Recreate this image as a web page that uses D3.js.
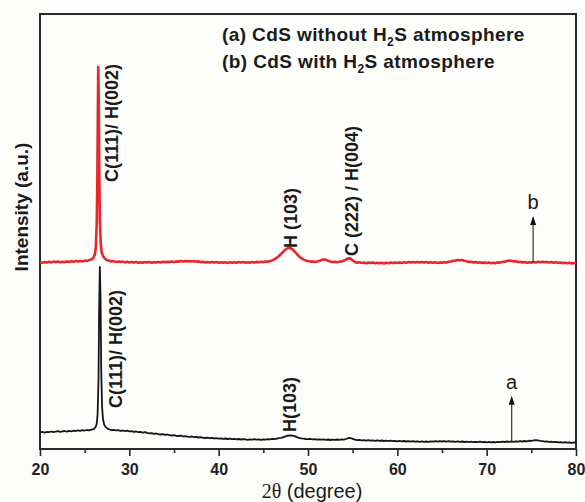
<!DOCTYPE html>
<html><head><meta charset="utf-8">
<script src="https://cdn.jsdelivr.net/npm/d3@7"></script>
<style>
html,body{margin:0;padding:0;background:#fdfdfb;}
svg{display:block;font-family:Arial,"Liberation Sans",Helvetica,sans-serif;}
</style></head>
<body><svg id="chart" width="585" height="502"></svg>
<script>
// 2θ (degree) and intensity (a.u., stacked as in the figure)
const xTicks = [20,30,40,50,60,70,80];
const xMinorTicks = [25,35,45,55,65,75];
const legendLines = ["(a) CdS without H", "(b) CdS with H"];

const redSeries = [
[20.00,186.8],[20.25,186.2],[20.50,187.0],[20.75,186.4],[21.00,187.2],[21.25,186.6],[21.50,187.4],[21.75,186.9],[22.00,187.5],[22.25,186.8],[22.50,187.3],[22.75,186.7],[23.00,187.6],[23.25,187.0],[23.50,187.8],[23.75,187.2],[24.00,187.9],[24.25,187.4],[24.50,188.0],[24.75,187.6],[25.00,188.4],[25.25,188.0],[25.50,188.9],[25.75,189.6],[26.00,191.5],[26.15,195.0],[26.25,202.0],[26.35,225.0],[26.42,270.0],[26.48,340.0],[26.52,382.0],[26.57,350.0],[26.63,280.0],[26.70,230.0],[26.80,205.0],[26.90,197.0],[27.05,193.0],[27.25,190.5],[27.50,188.8],[27.75,188.2],[28.00,187.4],[28.25,187.9],[28.50,187.1],[28.75,187.6],
[29.00,186.9],[29.25,187.4],[29.50,186.6],[29.75,187.2],[30.00,186.5],[30.25,187.1],[30.50,186.4],[30.75,186.9],[31.00,186.3],[31.25,186.8],[31.50,186.2],[31.75,186.9],[32.00,186.4],[32.25,187.0],[32.50,186.3],[32.75,186.8],[33.00,186.5],[33.25,187.1],[33.50,186.6],[33.75,187.2],[34.00,186.7],[34.25,187.3],[34.50,186.9],[34.75,187.5],[35.00,187.0],[35.25,187.6],[35.50,187.2],[35.75,187.9],[36.00,187.4],[36.25,188.0],[36.50,187.6],[36.75,188.1],[37.00,187.5],[37.25,187.9],[37.50,187.2],[37.75,187.6],[38.00,186.9],[38.25,187.3],[38.50,186.6],[38.75,187.1],[39.00,186.5],[39.25,187.0],[39.50,186.4],[39.75,186.9],[40.00,186.3],[40.25,186.8],[40.50,186.2],[40.75,186.7],[41.00,186.1],[41.25,186.7],[41.50,186.2],[41.75,186.8],[42.00,186.3],[42.25,186.9],[42.50,186.4],[42.75,186.9],[43.00,186.3],[43.25,186.8],[43.50,186.4],[43.75,187.0],[44.00,186.5],[44.25,187.1],[44.50,186.7],[44.75,187.2],[45.00,186.9],[45.25,187.4],[45.50,187.3],[45.75,187.9],[46.00,188.6],[46.25,189.8],[46.50,191.2],[46.75,193.0],[47.00,195.2],[47.25,197.5],[47.50,199.6],[47.75,200.8],[48.00,201.0],[48.25,199.8],[48.50,197.6],[48.75,195.0],[49.00,192.6],[49.25,190.8],[49.50,189.4],[49.75,188.6],[50.00,187.9],[50.25,187.4],[50.50,187.6],[50.75,187.1],[51.00,187.5],[51.25,188.0],[51.50,188.9],[51.75,189.6],[52.00,189.3],[52.25,188.2],[52.50,187.5],[52.75,187.0],[53.00,187.3],[53.25,186.8],[53.50,187.2],[53.75,187.6],[54.00,188.2],[54.25,189.4],[54.50,190.6],[54.75,190.4],[55.00,188.6],[55.25,187.0],[55.50,186.2],
[55.75,186.7],[56.00,186.0],[56.25,186.5],[56.50,185.8],[56.75,186.4],[57.00,185.9],[57.25,186.5],[57.50,185.8],[57.75,186.3],[58.00,185.7],[58.25,186.2],[58.50,185.6],[58.75,186.3],[59.00,185.8],[59.25,186.4],[59.50,185.9],[59.75,186.5],[60.00,186.0],[60.25,186.6],[60.50,186.1],[60.75,186.7],[61.00,186.3],[61.25,186.9],[61.50,186.4],[61.75,187.0],[62.00,186.5],[62.25,187.1],[62.50,186.6],[62.75,187.0],[63.00,186.4],[63.25,186.9],[63.50,186.3],[63.75,186.8],[64.00,186.2],[64.25,186.7],[64.50,186.1],[64.75,186.6],[65.00,186.2],[65.25,186.8],[65.50,186.6],[65.75,187.3],[66.00,187.5],[66.25,188.2],[66.50,188.4],[66.75,188.9],[67.00,188.7],[67.25,188.9],[67.50,188.2],[67.75,187.8],[68.00,187.0],[68.25,187.3],[68.50,186.6],[68.75,186.9],[69.00,186.3],[69.25,186.7],[69.50,186.1],[69.75,186.5],[70.00,185.9],[70.25,186.4],[70.50,185.8],[70.75,186.3],[71.00,185.9],[71.25,186.6],[71.50,186.4],[71.75,187.1],[72.00,187.3],[72.25,188.0],[72.50,188.4],[72.75,188.2],[73.00,187.6],[73.25,187.8],[73.50,187.0],[73.75,187.2],[74.00,186.5],[74.25,186.9],[74.50,186.3],[74.75,186.8],[75.00,186.4],[75.25,187.0],[75.50,186.6],[75.75,187.2],[76.00,186.8],[76.25,187.3],[76.50,186.7],[76.75,187.1],[77.00,186.5],[77.25,186.9],[77.50,186.3],[77.75,186.7],[78.00,186.1],[78.25,186.5],[78.50,185.9],[78.75,186.3],[79.00,185.8],[79.25,186.2],[79.50,185.6],[79.75,186.0],[80.00,185.7]
];

const blackSeries = [
[20.00,16.5],[20.25,17.2],[20.50,16.4],[20.75,17.0],[21.00,16.8],[21.25,17.5],[21.50,16.9],[21.75,17.4],[22.00,17.8],[22.25,17.1],[22.50,17.6],[22.75,18.0],[23.00,17.4],[23.25,18.2],[23.50,17.7],[23.75,18.3],[24.00,18.0],[24.25,18.6],[24.50,18.1],[24.75,18.8],[25.00,18.4],[25.25,19.0],[25.50,18.7],[25.75,19.4],[26.00,19.8],[26.20,21.5],[26.35,25.0],[26.45,35.0],[26.55,70.0],[26.62,140.0],[26.70,182.0],[26.78,150.0],[26.85,80.0],[26.95,42.0],[27.05,30.0],[27.20,24.0],[27.40,21.5],[27.60,20.2],[27.80,19.5],[28.00,18.8],[28.25,19.2],[28.50,18.6],[28.75,18.9],[29.00,18.2],[29.25,18.5],[29.50,17.8],[29.75,18.3],[30.00,17.6],[30.25,17.9],[30.50,17.2],[30.75,17.5],[31.00,16.9],[31.25,17.1],[31.50,16.4],[31.75,16.8],[32.00,16.1],[32.25,15.6],[32.50,15.9],[32.75,15.2],[33.00,15.5],[33.25,14.8],[33.50,14.5],[33.75,14.9],[34.00,14.2],[34.25,14.5],[34.50,13.8],[34.75,13.5],[35.00,13.9],[35.25,13.2],[35.50,13.0],[35.75,13.4],[36.00,12.7],[36.25,12.9],[36.50,12.4],[36.75,12.1],[37.00,12.5],[37.25,11.8],[37.50,12.0],[37.75,11.5],[38.00,11.8],[38.25,11.2],[38.50,11.0],[38.75,11.4],[39.00,10.8],[39.25,11.0],[39.50,10.6],[39.75,10.9],[40.00,10.4],[40.25,10.7],[40.50,10.2],[40.75,10.5],[41.00,10.0],[41.25,10.3],[41.50,9.8],[41.75,10.2],[42.00,9.7],[42.25,10.0],[42.50,9.5],[42.75,9.9],[43.00,9.6],[43.25,9.2],[43.50,9.7],[43.75,9.4],[44.00,9.8],[44.25,9.3],[44.50,9.6],[44.75,9.2],[45.00,9.7],[45.25,9.4],[45.50,9.9],[45.75,9.6],[46.00,10.1],[46.25,9.8],[46.50,10.4],[46.75,10.8],[47.00,11.2],[47.25,11.9],[47.50,12.6],[47.75,13.3],[48.00,13.6],[48.25,13.4],[48.50,12.8],[48.75,11.9],[49.00,11.2],[49.25,10.6],[49.50,10.3],[49.75,10.0],[50.00,9.8],[50.25,10.1],[50.50,9.6],[50.75,9.9],[51.00,9.4],[51.25,9.7],[51.50,9.3],[51.75,9.6],[52.00,9.2],[52.25,9.5],[52.50,9.0],[52.75,9.4],[53.00,9.1],[53.25,9.5],[53.50,9.2],[53.75,9.6],[54.00,9.4],[54.25,10.0],[54.50,10.8],[54.75,11.0],[55.00,10.2],[55.25,9.3],[55.50,8.8],[55.75,9.1],[56.00,8.6],[56.25,8.9],[56.50,8.4],[56.75,8.8],[57.00,8.3],[57.25,8.7],[57.50,8.2],[57.75,8.6],[58.00,8.1],[58.25,8.5],[58.50,8.0],[58.75,8.4],[59.00,7.9],[59.25,8.3],[59.50,7.8],[59.75,8.2],[60.00,7.7],
[60.25,8.1],[60.50,7.6],[60.75,8.0],[61.00,7.5],[61.25,7.9],[61.50,7.4],[61.75,7.8],[62.00,7.3],[62.25,7.7],[62.50,7.2],[62.75,7.6],[63.00,7.1],[63.25,7.5],[63.50,7.2],[63.75,7.7],[64.00,7.3],[64.25,7.8],[64.50,7.4],[64.75,7.9],[65.00,7.5],[65.25,7.9],[65.50,7.4],[65.75,7.8],[66.00,7.3],[66.25,7.7],[66.50,7.2],[66.75,7.6],[67.00,7.1],[67.25,7.5],[67.50,7.0],[67.75,7.4],[68.00,6.9],[68.25,7.3],[68.50,6.8],[68.75,7.2],[69.00,6.9],[69.25,7.3],[69.50,6.8],[69.75,7.2],[70.00,6.7],[70.25,7.1],[70.50,6.6],[70.75,7.0],[71.00,6.7],[71.25,7.2],[71.50,6.8],[71.75,7.3],[72.00,7.0],[72.25,7.5],[72.50,7.1],[72.75,7.6],[73.00,7.2],[73.25,7.7],[73.50,7.3],[73.75,7.8],[74.00,7.5],[74.25,8.0],[74.50,7.7],[74.75,8.3],[75.00,8.0],[75.25,8.6],[75.50,8.8],[75.75,8.6],[76.00,8.2],[76.25,7.9],[76.50,7.3],[76.75,7.6],[77.00,7.0],[77.25,7.3],[77.50,6.8],[77.75,7.1],[78.00,6.6],[78.25,6.9],[78.50,6.4],[78.75,6.8],[79.00,6.3],[79.25,6.6],[79.50,6.1],[79.75,6.5],[80.00,6.3]
];

// peak annotations: [2θ, label]
const redLabels = [[26.52,"C(111)/ H(002)"],[47.9,"H (103)"],[54.6,"C (222) / H(004)"]];
const blackLabels = [[26.70,"C(111)/ H(002)"],[48.2,"H(103)"]];
const arrowMarks = [["b",75.2,187.0],["a",72.8,7.3]];

const svg = d3.select("#chart");
const L=40, R=576, T=14, B=449;
const x = d3.scaleLinear().domain([20,80]).range([L,R]);
const y = d3.scaleLinear().domain([0,435]).range([B,T]);

// frame
svg.append("rect").attr("x",L).attr("y",T).attr("width",R-L).attr("height",B-T)
  .attr("fill","none").attr("stroke","#2a2a2a").attr("stroke-width",2);

// x axis
const ax = svg.append("g").attr("transform",`translate(0,${B})`)
  .call(d3.axisBottom(x).tickValues(xTicks).tickSize(7).tickPadding(8).tickFormat(d3.format("d")));
ax.select(".domain").remove();
ax.selectAll(".tick line").attr("stroke","#2a2a2a").attr("stroke-width",1.6);
ax.selectAll(".tick text").attr("font-size",16).attr("font-weight","bold").attr("fill","#222")
  .attr("font-family","Arial,'Liberation Sans',sans-serif");
const axm = svg.append("g").attr("transform",`translate(0,${B})`)
  .call(d3.axisBottom(x).tickValues(xMinorTicks).tickSize(4).tickFormat(""));
axm.select(".domain").remove();
axm.selectAll(".tick line").attr("stroke","#2a2a2a").attr("stroke-width",1.6);

// lines
const line = d3.line().x(d=>x(d[0])).y(d=>y(d[1]));
svg.append("path").datum(blackSeries).attr("d",line).attr("fill","none")
  .attr("stroke","#151515").attr("stroke-width",1.8).attr("stroke-linejoin","round");
svg.append("path").datum(redSeries).attr("d",line).attr("fill","none")
  .attr("stroke","#e8262b").attr("stroke-width",2.6).attr("stroke-linejoin","round");

// rotated peak labels
function vlabel(px, py, txt){
  svg.append("text").attr("transform",`translate(${px},${py}) rotate(-90)`)
    .attr("font-size",18).attr("font-weight","bold").attr("fill","#1a1a1a").text(txt);
}
vlabel(x(redLabels[0][0])+20, 182, redLabels[0][1]);
vlabel(x(redLabels[1][0])+8, 248, redLabels[1][1]);
vlabel(x(redLabels[2][0])+9, 256, redLabels[2][1]);
vlabel(x(blackLabels[0][0])+22, 408, blackLabels[0][1]);
vlabel(x(blackLabels[1][0])+4, 432, blackLabels[1][1]);

// arrows
arrowMarks.forEach(([lab,a,v])=>{
  const ax0=x(a), y0=y(v), yt = y0-46;
  svg.append("line").attr("x1",ax0).attr("x2",ax0).attr("y1",y0+1).attr("y2",yt+6)
    .attr("stroke","#333").attr("stroke-width",1.2);
  svg.append("path").attr("d",`M${ax0},${yt} L${ax0-3},${yt+9} L${ax0+3},${yt+9} Z`).attr("fill","#111");
  svg.append("text").attr("x",ax0).attr("y",yt-7).attr("text-anchor","middle")
    .attr("font-size",20).attr("fill","#1a1a1a").text(lab);
});

// legend
const lg = svg.append("g");
legendLines.forEach((t,i)=>{
  const tx = lg.append("text").attr("x",222).attr("y",41+i*27)
    .attr("font-size",19).attr("font-weight","bold").attr("fill","#1a1a1a")
    .attr("letter-spacing",0.4);
  tx.append("tspan").text(t);
  tx.append("tspan").attr("font-size",12).attr("dy",5).text("2");
  tx.append("tspan").attr("dy",-5).text("S atmosphere");
});

// axis titles
svg.append("text").attr("transform",`translate(28,${207}) rotate(-90)`).attr("text-anchor","middle")
  .attr("font-size",19).attr("font-weight","bold").attr("fill","#1a1a1a").text("Intensity (a.u.)");
const xt = svg.append("text").attr("x",x(50)+4).attr("y",498).attr("text-anchor","middle")
  .attr("font-size",20).attr("fill","#1a1a1a");
xt.append("tspan").attr("font-family","'Liberation Serif','Times New Roman',serif").text("2θ");
xt.append("tspan").text(" (degree)");
</script></body></html>
